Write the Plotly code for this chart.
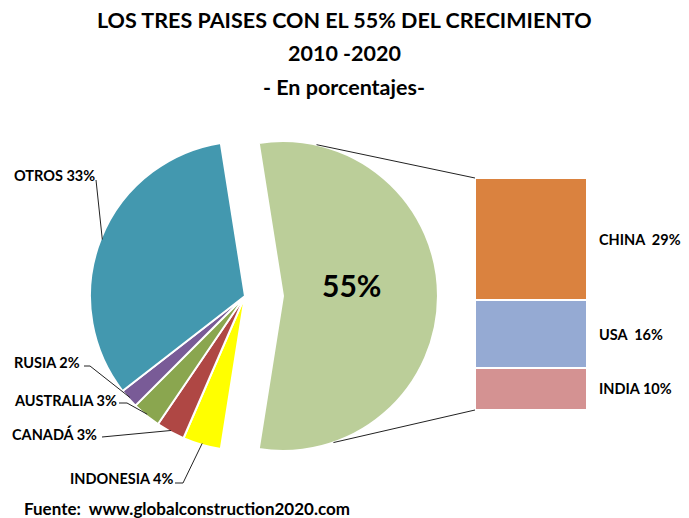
import math
import plotly.graph_objects as go

# ---------------- data ----------------
pie_labels = ["CHINA + USA + INDIA", "INDONESIA", "CANADÁ", "AUSTRALIA", "RUSIA", "OTROS"]
pie_values = [55, 4, 3, 3, 2, 33]
pie_colors = ["#BBCE99", "#FFFF00", "#AF4744", "#8AA64F", "#795B97", "#4398AF"]

bar_labels = ["INDIA", "USA", "CHINA"]
bar_values = [10, 16, 29]
bar_colors = ["#D49292", "#95AAD3", "#DA823F"]

title_lines = ["LOS TRES PAISES CON EL 55% DEL CRECIMIENTO", "2010 -2020", "- En porcentajes-"]
source_text = "Fuente:  www.globalconstruction2020.com"

# ---------------- layout geometry (pixels) ----------------
W, H = 689, 518
FONT = "Lato"
CX, CY, R = 245, 296, 155       # pie centre / radius
PULL = 0.245                    # explode of big slice
ROT = -9                        # start angle (deg, clockwise from 12 o'clock)
BAR_X = (475, 587)
BAR_Y = (178, 410)
LBL = 14.5


def px(x):
    return x / W


def py(y):
    return 1 - y / H


half = R * (1 + PULL)
fig = go.Figure()
fig.add_trace(go.Pie(
    labels=pie_labels, values=pie_values, sort=False, direction="clockwise",
    rotation=ROT, pull=[PULL] + [0] * (len(pie_values) - 1),
    marker=dict(colors=pie_colors, line=dict(color="white", width=2)),
    textinfo="none", hoverinfo="label+percent", showlegend=False,
    domain=dict(x=[px(CX - half), px(CX + half)], y=[py(CY + half), py(CY - half)]),
))

for lab, val, col in zip(bar_labels, bar_values, bar_colors):
    fig.add_trace(go.Bar(
        x=["x"], y=[val], name=lab, marker=dict(color=col, line=dict(color="white", width=2)),
        xaxis="x2", yaxis="y2", showlegend=False,
    ))

total_bar = sum(bar_values)
fig.update_layout(
    width=W, height=H, margin=dict(l=0, r=0, t=0, b=0),
    paper_bgcolor="white", plot_bgcolor="white",
    barmode="stack", bargap=0,
    xaxis2=dict(domain=[px(BAR_X[0]), px(BAR_X[1])], anchor="y2", visible=False,
                range=[-0.5, 0.5], fixedrange=True),
    yaxis2=dict(domain=[py(BAR_Y[1]), py(BAR_Y[0])], anchor="x2", visible=False,
                range=[0, total_bar], fixedrange=True),
    font=dict(family=FONT, color="black"),
)

ann = []
# title
for txt, y in zip(title_lines, [20, 53, 87]):
    ann.append(dict(text=f"<b>{txt}</b>", x=px(344), y=py(y), xref="paper", yref="paper",
                    showarrow=False, xanchor="center", yanchor="middle",
                    font=dict(size=21.5, family=FONT, color="black")))
# source
ann.append(dict(text=f"<b>{source_text}</b>", x=px(22), y=py(508), xref="paper", yref="paper",
                showarrow=False, xanchor="left", yanchor="middle",
                font=dict(size=17, family=FONT, color="black")))

# big slice label
ann.append(dict(text=f"<b>{pie_values[0]}%</b>", x=px(CX + PULL * R + 0.44 * R), y=py(CY - 11),
                xref="paper", yref="paper", showarrow=False,
                font=dict(size=30, family=FONT, color="black")))

# bar labels
cum = 0
for lab, val in zip(bar_labels, bar_values):
    mid = cum + val / 2
    cum += val
    sep = "&nbsp;" if lab == "INDIA" else "&nbsp;&nbsp;"
    ann.append(dict(text=f"<b>{lab}{sep}{val}%</b>", x=px(597), y=mid, xref="paper", yref="y2",
                    showarrow=False, xanchor="left", yanchor="middle",
                    font=dict(size=LBL, family=FONT, color="black")))

# small slice labels (pixel positions of text) and leader lines
total = sum(pie_values)
label_pos = {  # label: (text x-left, text y, elbow points list)
    "OTROS": (12, 175, [(96, 180)]),
    "RUSIA": (12, 362, [(84, 366), (90, 366)]),
    "AUSTRALIA": (12, 400, [(119, 403), (127, 403)]),
    "CANADÁ": (10, 434, [(102, 437)]),
    "INDONESIA": (68, 478, [(175, 483), (183, 483)]),
}
shapes = []
start = ROT
for lab, val in zip(pie_labels, pie_values):
    span = val / total * 360
    mid = math.radians(start + span / 2)
    start += span
    if lab not in label_pos:
        continue
    tx, ty, pts = label_pos[lab]
    ann.append(dict(text=f"<b>{lab} {val}%</b>", x=px(tx), y=py(ty), xref="paper", yref="paper",
                    showarrow=False, xanchor="left", yanchor="middle",
                    font=dict(size=LBL, family=FONT, color="black")))
    ax = CX + R * 0.99 * math.sin(mid)
    ay = CY - R * 0.99 * math.cos(mid)
    allp = pts + [(ax, ay)]
    for (x0, y0), (x1, y1) in zip(allp[:-1], allp[1:]):
        shapes.append(dict(type="line", xref="paper", yref="paper", x0=px(x0), y0=py(y0),
                           x1=px(x1), y1=py(y1), line=dict(color="#222", width=1)))

# connector lines from exploded slice to bar
pcx = CX + PULL * R
for ang, by in [(12.5, BAR_Y[0]), (161, BAR_Y[1])]:
    a = math.radians(ang)
    sx = pcx + R * math.sin(a)
    sy = CY - R * math.cos(a)
    shapes.append(dict(type="line", xref="paper", yref="paper", x0=px(sx), y0=py(sy),
                       x1=px(BAR_X[0]), y1=py(by), line=dict(color="#222", width=1)))

fig.update_layout(annotations=ann, shapes=shapes)
fig.write_html("out.html", config={"displayModeBar": False},
               post_script="document.body.style.margin='0';document.body.style.overflow='hidden';")
